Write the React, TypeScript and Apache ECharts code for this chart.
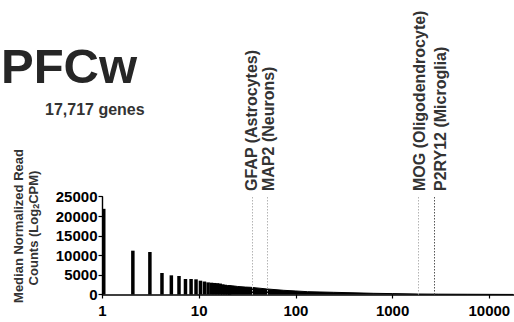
import React, { useEffect, useRef } from "react";
import * as echarts from "echarts";

// Gene rank (x, log) vs. read count (y)
const barRanks = [1, 2, 3, 4, 5, 6, 7, 8, 9, 10, 11, 12, 13, 14, 15, 16, 17, 18, 19, 20];
const barCounts = [21900, 11200, 10860, 5500, 4900, 4730, 3960, 3960, 3880, 3530, 3320, 3100, 3020, 2950, 2900, 2800, 2610, 2500, 2400, 2300];
const tailRanks = [20, 23, 25, 30, 34, 50, 75, 100, 132, 245, 640, 1000, 1800, 3000, 6000, 10000, 17717];
const tailCounts = [2300, 2170, 2050, 1900, 1840, 1420, 1070, 900, 720, 560, 300, 230, 130, 90, 60, 40, 20];

const markerNames = ["GFAP (Astrocytes)", "MAP2 (Neurons)", "MOG (Oligodendrocyte)", "P2RY12 (Microglia)"];
const markerRanks = [35, 50, 1860, 2700];
const markerColors = ["#b4b4b4", "#b4b4b4", "#b4b4b4", "#555555"];
const markerLabelDx = [0, 2, 1, 6];

const xTickLabels = ["1", "10", "100", "1000", "10000"];
const yTicks = [0, 5000, 10000, 15000, 20000, 25000];

const titleText = "PFCw";
const subtitleText = "17,717 genes";

const FONT = 'Arial, "Liberation Sans", sans-serif';

export default function App() {
  const ref = useRef<HTMLDivElement>(null);

  useEffect(() => {
    const chart = echarts.init(ref.current!, null, { renderer: "svg" });

    chart.setOption({
      animation: false,
      backgroundColor: "#ffffff",
      grid: { left: 102.5, right: 0, top: 196.7, bottom: 27.5, containLabel: false },
      xAxis: {
        type: "log",
        logBase: 10,
        min: 1,
        max: 18000,
        axisLine: { show: true, lineStyle: { color: "#000", width: 1.6 } },
        axisTick: { show: true, length: 4, lineStyle: { color: "#000", width: 1.2 } },
        minorTick: { show: false },
        splitLine: { show: false },
        axisLabel: {
          show: true,
          showMaxLabel: false,
          margin: 8,
          color: "#000",
          fontFamily: FONT,
          fontWeight: "bold",
          fontSize: 15,
          formatter: (v: number) => {
            const s = String(Math.round(v));
            return xTickLabels.includes(s) && Math.abs(v - Math.round(v)) < 1e-6 ? s : "";
          },
        },
      },
      yAxis: {
        type: "value",
        min: yTicks[0],
        max: yTicks[yTicks.length - 1],
        interval: yTicks[1] - yTicks[0],
        axisLine: { show: true, lineStyle: { color: "#000", width: 1.4 } },
        axisTick: { show: true, length: 4, lineStyle: { color: "#000", width: 1.2 } },
        splitLine: { show: false },
        axisLabel: {
          margin: 5,
          color: "#000",
          fontFamily: FONT,
          fontWeight: "bold",
          fontSize: 15,
          formatter: (v: number) => String(Math.round(v)),
        },
      },
      series: [
        {
          type: "custom",
          data: barRanks.map((r, i) => [r, barCounts[i]]),
          renderItem: (_params: any, api: any) => {
            const x = api.value(0);
            const y = api.value(1);
            const top = api.coord([x, y]);
            const base = api.coord([x, 0]);
            return {
              type: "rect",
              shape: { x: top[0] - 0.5, y: top[1], width: 3.5, height: base[1] - top[1] },
              style: { fill: "#000" },
            };
          },
          silent: true,
          z: 3,
        },
        {
          type: "line",
          data: tailRanks.map((r, i) => [r, tailCounts[i]]),
          symbol: "none",
          lineStyle: { color: "#000", width: 1 },
          areaStyle: { color: "#000", opacity: 1 },
          silent: true,
          z: 3,
          markLine: {
            silent: true,
            symbol: "none",
            label: { show: false },
            data: markerRanks.map((r, i) => ({
              xAxis: r,
              lineStyle: { type: [1.5, 1.5], color: markerColors[i], width: 1 },
            })),
          },
        },
      ],
    });

    const labels = markerNames.map((name, i) => {
      const px = chart.convertToPixel({ xAxisIndex: 0 }, markerRanks[i]) as number;
      return {
        type: "text",
        x: px + markerLabelDx[i],
        y: 191,
        rotation: Math.PI / 2,
        style: {
          text: name,
          fontFamily: FONT,
          fontWeight: "bold",
          fontSize: 16,
          fill: "#333",
          align: "left",
          verticalAlign: "middle",
        },
      };
    });

    chart.setOption({
      graphic: [
        {
          type: "text",
          x: 1,
          y: 66,
          style: {
            text: titleText,
            fontFamily: FONT,
            fontWeight: "bold",
            fontSize: 49,
            fill: "#262626",
            align: "left",
            verticalAlign: "middle",
          },
        },
        {
          type: "text",
          x: 45,
          y: 109.5,
          style: {
            text: subtitleText,
            fontFamily: FONT,
            fontWeight: "bold",
            fontSize: 16,
            fill: "#333",
            align: "left",
            verticalAlign: "middle",
          },
        },
        {
          type: "text",
          x: 18,
          y: 226,
          rotation: Math.PI / 2,
          style: {
            text: "Median Normalized Read",
            fontFamily: FONT,
            fontWeight: "bold",
            fontSize: 13,
            fill: "#333",
            align: "center",
            verticalAlign: "middle",
          },
        },
        {
          type: "text",
          x: 33,
          y: 228,
          rotation: Math.PI / 2,
          style: {
            text: "{a|Counts (Log}{s|2}{a|CPM)}",
            align: "center",
            verticalAlign: "middle",
            rich: {
              a: { fontFamily: FONT, fontWeight: "bold", fontSize: 13, fill: "#333", lineHeight: 15 },
              s: { fontFamily: FONT, fontWeight: "bold", fontSize: 9, fill: "#333", lineHeight: 7, verticalAlign: "bottom" },
            },
          },
        },
        ...labels,
      ],
    });

    return () => chart.dispose();
  }, []);

  return (
    <div
      ref={ref}
      style={{ position: "fixed", left: 0, top: 0, width: 514, height: 322, background: "#fff" }}
    />
  );
}
